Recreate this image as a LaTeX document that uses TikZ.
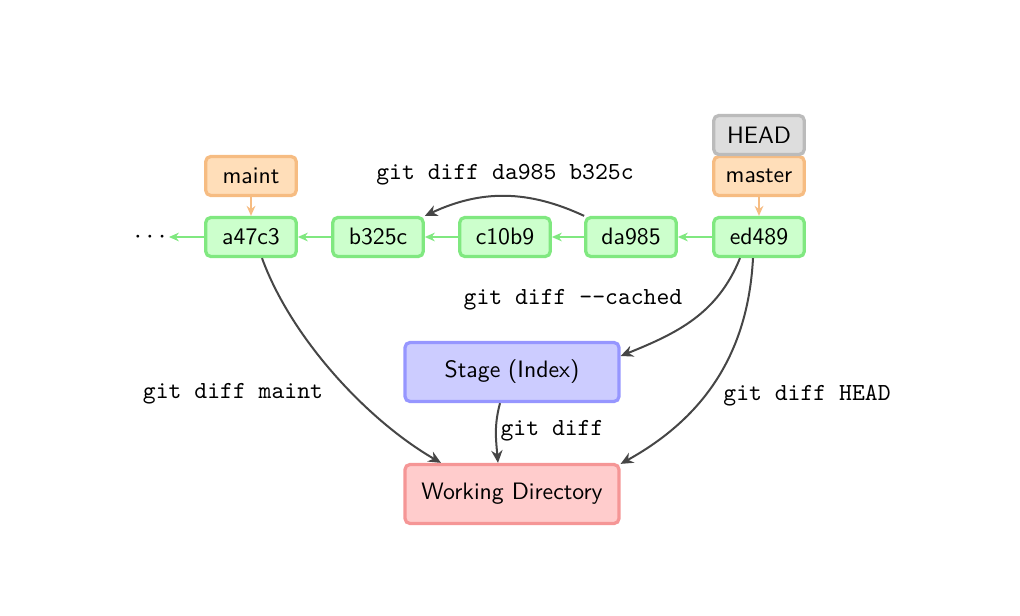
\documentclass[tikz,border=0pt]{standalone}
\usetikzlibrary{arrows.meta}
\definecolor{gfill}{RGB}{204,255,204}
\definecolor{gline}{RGB}{128,232,128}
\definecolor{ofill}{RGB}{255,222,185}
\definecolor{oline}{RGB}{246,188,130}
\definecolor{hfill}{RGB}{221,221,221}
\definecolor{hline}{RGB}{187,187,187}
\definecolor{bfill}{RGB}{204,204,255}
\definecolor{bline}{RGB}{150,150,255}
\definecolor{rfill}{RGB}{255,204,204}
\definecolor{rline}{RGB}{245,150,150}
\definecolor{darr}{RGB}{70,70,70}
\tikzset{
  boxbase/.style={rounded corners=2pt, line width=1.3pt, inner sep=0pt,
    font=\fontsize{9.5}{11}\selectfont\sffamily},
  commit/.style={boxbase, draw=gline, fill=gfill, minimum width=36.2pt, minimum height=15.6pt},
  branch/.style={boxbase, draw=oline, fill=ofill, minimum width=36.2pt, minimum height=15.6pt},
  headbox/.style={boxbase, draw=hline, fill=hfill, minimum width=36.2pt, minimum height=15.6pt},
  stagebox/.style={boxbase, draw=bline, fill=bfill, minimum width=85.6pt, minimum height=23.6pt},
  workbox/.style={boxbase, draw=rline, fill=rfill, minimum width=85.6pt, minimum height=23.6pt},
  cmd/.style={font=\fontsize{9.8}{11}\selectfont\ttfamily, inner sep=1pt},
  garr/.style={-{Stealth[length=4pt,width=3.5pt]}, draw=gline, line width=0.6pt},
  oarr/.style={-{Stealth[length=4pt,width=3.5pt]}, draw=oline, line width=0.6pt},
  darrow/.style={-{Stealth[length=5pt,width=4.5pt]}, draw=darr, line width=0.8pt},
}
\begin{document}
\begin{tikzpicture}[x=0.4pt,y=0.4pt]
\useasboundingbox (0,0) rectangle (1020,615);
% commits
\node[commit] (a47c3) at (251,378) {a47c3};
\node[commit] (b325c) at (378,378) {b325c};
\node[commit] (c10b9) at (505,378) {c10b9};
\node[commit] (da985) at (631,378) {da985};
\node[commit] (ed489) at (759,378) {ed489};
\node[inner sep=1pt, font=\fontsize{11}{12}\selectfont] (dots) at (150,378) {$\cdots$};
% branches
\node[branch] (maint) at (251,439) {maint};
\node[branch] (master) at (759,439) {master};
\node[headbox] (head) at (759,480) {HEAD};
% stage & working dir
\node[stagebox] (stage) at (512,243) {Stage (Index)};
\node[workbox] (work) at (512,121) {Working Directory};
% history arrows
\draw[garr] (a47c3.west) -- (dots.east);
\draw[garr] (b325c.west) -- (a47c3.east);
\draw[garr] (c10b9.west) -- (b325c.east);
\draw[garr] (da985.west) -- (c10b9.east);
\draw[garr] (ed489.west) -- (da985.east);
\draw[oarr] (maint.south) -- (a47c3.north);
\draw[oarr] (master.south) -- (ed489.north);
% diff arrows
\draw[darrow] (da985.north west) to[bend right=25] (b325c.north east);
\node[cmd] (l1) at (505,440) {git diff da985 b325c};
\draw[darrow] ([xshift=-7.6pt]ed489.south) to[out=-112,in=22] ([yshift=6.4pt]stage.east);
\node[cmd] (l2) at (573,315) {git diff --cached};
\draw[darrow] ([xshift=-2.4pt]ed489.south) to[out=-93,in=29] ([yshift=-0.4pt]work.north east);
\node[cmd] (l3) at (807,219) {git diff HEAD};
\draw[darrow] ([xshift=4.4pt]a47c3.south) to[out=-70,in=150,looseness=0.8] ([xshift=-28.4pt]work.north);
\node[cmd] (l4) at (233,221) {git diff maint};
\draw[darrow] ([xshift=-4.8pt]stage.south) to[out=-105,in=95] ([xshift=-5.6pt]work.north);
\node[cmd] (l5) at (552,184) {git diff};
\end{tikzpicture}
\end{document}
